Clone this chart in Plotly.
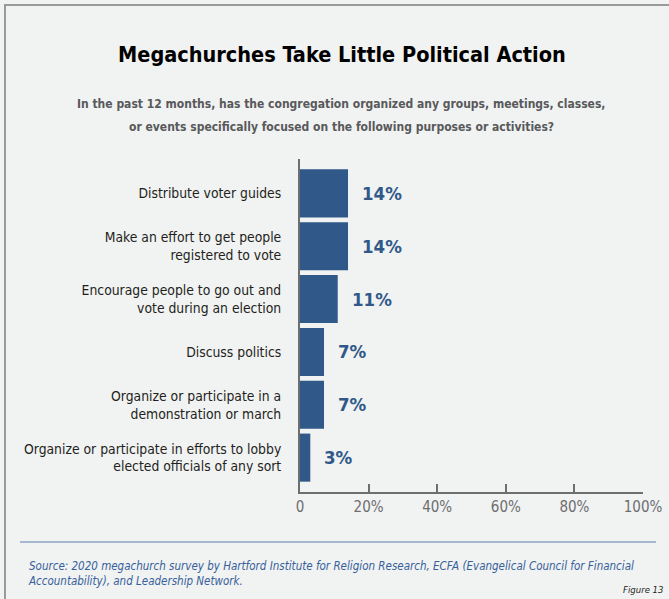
import plotly.graph_objects as go

# Survey responses (% of megachurches)
activities = [
    "Distribute voter guides",
    "Make an effort to get people<br>registered to vote",
    "Encourage people to go out and<br>vote during an election",
    "Discuss politics",
    "Organize or participate in a<br>demonstration or march",
    "Organize or participate in efforts to lobby<br>elected officials of any sort",
]
shares = [14, 14, 11, 7, 7, 3]
x_ticks = [0, 20, 40, 60, 80, 100]
x_tick_labels = ["0", "20%", "40%", "60%", "80%", "100%"]

NARROW = "DejaVu Sans Condensed, Liberation Sans Narrow, Liberation Sans, sans-serif"
BAR = "#30598a"
BG = "#f1f2f2"

W, H = 669, 599
pl, pr, pt, pb = 300, 26, 159, 107
pw, ph = W - pl - pr, H - pt - pb


def px(x):
    return (x - pl) / pw


def py(y):
    return (H - pb - y) / ph


fig = go.Figure(
    go.Bar(
        x=shares,
        y=list(range(len(activities))),
        orientation="h",
        marker=dict(color=BAR, line=dict(width=0)),
        width=0.91,
        hoverinfo="skip",
    )
)

# value labels to the right of each bar
for i, v in enumerate(shares):
    fig.add_annotation(
        x=v, y=i, xref="x", yref="y", text=f"<b>{v}%</b>",
        showarrow=False, xanchor="left", yanchor="middle", xshift=12,
        font=dict(family=NARROW, size=18.5, color=BAR),
    )

fig.update_layout(
    width=W, height=H,
    margin=dict(l=pl, r=pr, t=pt, b=pb),
    paper_bgcolor=BG, plot_bgcolor=BG,
    showlegend=False,
    xaxis=dict(
        range=[0, 100], tickvals=x_ticks, ticktext=x_tick_labels,
        showgrid=False, zeroline=False, automargin=False,
        showline=True, linecolor="#6d6e70", linewidth=2,
        ticks="inside", ticklen=8, tickwidth=2, tickcolor="#6d6e70",
        tickfont=dict(family=NARROW, size=15, color="#6d6e70"),
        ticklabelstandoff=0,
    ),
    yaxis=dict(
        range=[5.65, -0.65], tickvals=list(range(len(activities))),
        ticktext=activities, automargin=False,
        showgrid=False, zeroline=False,
        showline=True, linecolor="#6d6e70", linewidth=2,
        ticks="", ticklabelstandoff=14,
        tickfont=dict(family=NARROW, size=13.8, color="#231f20"),
    ),
)

# title and question
fig.add_annotation(
    x=px(342), y=py(55), xref="paper", yref="paper", xanchor="center", yanchor="middle",
    text="<b>Megachurches Take Little Political Action</b>",
    showarrow=False, font=dict(family=NARROW, size=21.5, color="#000000"),
)
question = [
    "In the past 12 months, has the congregation organized any groups, meetings, classes,",
    "or events specifically focused on the following purposes or activities?",
]
for line, yy in zip(question, [104, 127]):
    fig.add_annotation(
        x=px(341), y=py(yy), xref="paper", yref="paper", xanchor="center", yanchor="middle",
        text=f"<b>{line}</b>",
        showarrow=False, font=dict(family=NARROW, size=12, color="#58595b"),
    )

# frame around the figure
fig.add_shape(type="rect", xref="paper", yref="paper",
              x0=px(5), x1=px(700), y0=py(5), y1=py(640),
              line=dict(color="#9a9a9a", width=2), layer="below")
# rule above the source note
fig.add_shape(type="line", xref="paper", yref="paper",
              x0=px(20), x1=px(656), y0=py(542), y1=py(542),
              line=dict(color="#5f80ad", width=1.2))

fig.add_annotation(
    x=px(26), y=py(573.5), xref="paper", yref="paper", xanchor="left", yanchor="middle",
    align="left", showarrow=False,
    text="<i>Source: 2020 megachurch survey by Hartford Institute for Religion Research, ECFA (Evangelical Council for Financial<br>"
         "Accountability), and Leadership Network.</i>",
    font=dict(family=NARROW, size=11.5, color="#35619a"),
)
fig.add_annotation(
    x=px(666), y=py(589), xref="paper", yref="paper", xanchor="right", yanchor="middle",
    showarrow=False, text="<i>Figure 13</i>",
    font=dict(family=NARROW, size=9.5, color="#231f20"),
)

fig.write_html("out.html")
